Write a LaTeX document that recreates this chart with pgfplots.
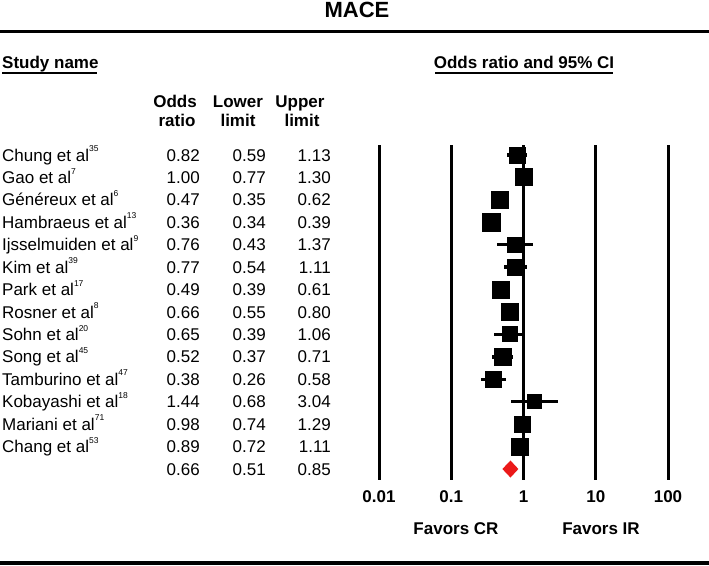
\documentclass[border=0pt]{standalone}
\usepackage{pgfplots}
\pgfplotsset{compat=1.18}
\usepackage{pgfplotstable}
\usepackage{fontspec}
\setmainfont{Liberation Sans}
\definecolor{sumred}{RGB}{235,25,25}

% row, odds ratio, lower, upper, square side (px)
\pgfplotstableread{
row or   lo   hi   s
0   0.82 0.59 1.13 17
1   1.00 0.77 1.30 18
2   0.47 0.35 0.62 18
3   0.36 0.34 0.39 19
4   0.76 0.43 1.37 16
5   0.77 0.54 1.11 17
6   0.49 0.39 0.61 18
7   0.66 0.55 0.80 18
8   0.65 0.39 1.06 16
9   0.52 0.37 0.71 18
10  0.38 0.26 0.58 17
11  1.44 0.68 3.04 15
12  0.98 0.74 1.29 17
13  0.89 0.72 1.11 18
}\studies

\newcommand\sref[1]{\raisebox{0.55em}{\fontsize{8.5}{9}\selectfont #1}}

\begin{document}
\fontsize{17}{20}\selectfont
\begin{tikzpicture}
\path[use as bounding box] (0,0) rectangle (709pt,-565pt);
\begin{axis}[
    at={(379pt,-480pt)}, anchor=south west,
    scale only axis, width=289pt, height=335pt,
    xmode=log, xmin=0.01, xmax=100,
    ymin=-0.446, ymax=14.49, y dir=reverse,
    clip=false,
    axis line style={draw=none},
    major tick length=0pt, minor tick length=0pt,
    xminorticks=false, tick style={draw=none},
    ytick=\empty,
    xtick={0.01,0.1,1,10,100},
    xticklabels={\textbf{0.01},\textbf{0.1},\textbf{1},\textbf{10},\textbf{100}},
    xticklabel style={anchor=base, yshift=-22pt, inner sep=0pt},
    xmajorgrids, grid style={line width=3pt, black},
  ]
  \addplot[only marks, mark=square*, line width=1pt,
    scatter, scatter/use mapped color={draw=black, fill=black},
    visualization depends on={\thisrow{s}/2-0.5 \as \msz},
    scatter/@pre marker code/.append style={/tikz/mark size=\msz},
    error bars/.cd, x dir=both, x explicit,
      error mark=none, error bar style={line width=3.5pt, black}]
    table[x=or, y=row,
      x error plus expr=\thisrow{hi}-\thisrow{or},
      x error minus expr=\thisrow{or}-\thisrow{lo}] {\studies};
  % pooled estimate
  \addplot[fill=sumred, draw=none] coordinates
    {(0.51,14) (0.66,13.62) (0.85,14) (0.66,14.38)} -- cycle;
\end{axis}

\begin{scope}[x=1pt, y=-1pt]
  \node[font=\bfseries\fontsize{22}{24}\selectfont, inner sep=0pt] at (357,10) {MACE};
  \draw[line width=3pt] (0,31.5) -- (709,31.5);
  \draw[line width=4pt] (0,563) -- (709,563);

  \node[font=\bfseries, anchor=base west, inner sep=0pt] at (2,68) {Study name};
  \draw[line width=2pt] (2,72.5) -- (97,72.5);
  \node[font=\bfseries, anchor=base, inner sep=0pt] at (524,68) {Odds ratio and 95\% CI};
  \draw[line width=2pt] (435,72.5) -- (613,72.5);

  \node[font=\bfseries, anchor=base, inner sep=0pt] at (175,107) {Odds};
  \node[font=\bfseries, anchor=base, inner sep=0pt] at (177,126) {ratio};
  \node[font=\bfseries, anchor=base, inner sep=0pt] at (238,107) {Lower};
  \node[font=\bfseries, anchor=base, inner sep=0pt] at (238,126) {limit};
  \node[font=\bfseries, anchor=base, inner sep=0pt] at (300,107) {Upper};
  \node[font=\bfseries, anchor=base, inner sep=0pt] at (302,126) {limit};

  \foreach \i/\nm/\r/\a/\b/\c in {
      0/Chung et al/35/0.82/0.59/1.13,
      1/Gao et al/7/1.00/0.77/1.30,
      2/Généreux et al/6/0.47/0.35/0.62,
      3/Hambraeus et al/13/0.36/0.34/0.39,
      4/Ijsselmuiden et al/9/0.76/0.43/1.37,
      5/Kim et al/39/0.77/0.54/1.11,
      6/Park et al/17/0.49/0.39/0.61,
      7/Rosner et al/8/0.66/0.55/0.80,
      8/Sohn et al/20/0.65/0.39/1.06,
      9/Song et al/45/0.52/0.37/0.71,
      10/Tamburino et al/47/0.38/0.26/0.58,
      11/Kobayashi et al/18/1.44/0.68/3.04,
      12/Mariani et al/71/0.98/0.74/1.29,
      13/Chang et al/53/0.89/0.72/1.11,
      14/{}/{}/0.66/0.51/0.85} {
    \pgfmathsetmacro\yb{155+22.43*\i+6}
    \node[anchor=base west, inner sep=0pt] at (2,\yb) {\nm\sref{\r}};
    \node[anchor=base east, inner sep=0pt] at (200,\yb) {\a};
    \node[anchor=base east, inner sep=0pt] at (266,\yb) {\b};
    \node[anchor=base east, inner sep=0pt] at (331,\yb) {\c};
  }

  \node[font=\bfseries, anchor=base, inner sep=0pt] at (456,534) {Favors CR};
  \node[font=\bfseries, anchor=base, inner sep=0pt] at (601,534) {Favors IR};
\end{scope}
\end{tikzpicture}
\end{document}
